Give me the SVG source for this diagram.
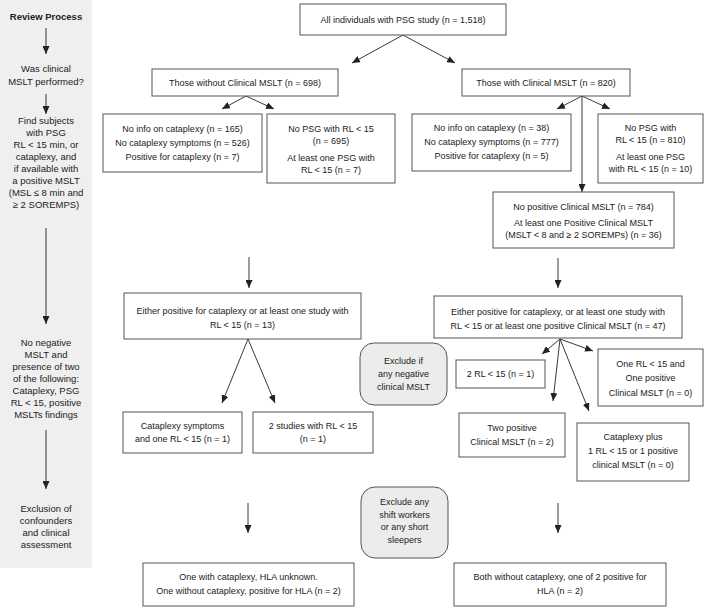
<svg xmlns="http://www.w3.org/2000/svg" width="705" height="608" viewBox="0 0 705 608">
<defs>
<marker id="ah" markerUnits="userSpaceOnUse" markerWidth="8" markerHeight="7" refX="8" refY="3.5" orient="auto">
<path d="M0,0 L8,3.5 L0,7 z" fill="#222"/>
</marker>
<style>
text{font-family:"Liberation Sans",Arial,sans-serif;font-size:9px;fill:#222;text-anchor:middle}
.p{font-size:9.5px}
.b{font-weight:bold}
.box{fill:#fff;stroke:#555;stroke-width:1}
.rbox{fill:#ececec;stroke:#555;stroke-width:1}
.ar{stroke:#222;stroke-width:0.9;fill:none;marker-end:url(#ah)}
</style>
</defs>
<rect width="705" height="608" fill="#fff"/>
<g id="review-panel">
<rect x="0" y="0" width="92" height="568" fill="#efefef"/>
<text class="b p" x="46" y="20">Review Process</text>
<line class="ar" x1="46" y1="28" x2="46" y2="54"/>
<text class="p" x="46" y="72">Was clinical</text>
<text class="p" x="46" y="84.5">MSLT performed?</text>
<line class="ar" x1="46" y1="94" x2="46" y2="114"/>
<text class="p" x="46" y="124">Find subjects</text>
<text class="p" x="46" y="136">with PSG</text>
<text class="p" x="46" y="148">RL &lt; 15 min, or</text>
<text class="p" x="46" y="160">cataplexy, and</text>
<text class="p" x="46" y="172">if available with</text>
<text class="p" x="46" y="184">a positive MSLT</text>
<text class="p" x="46" y="196">(MSL ≤ 8 min and</text>
<text class="p" x="46" y="208">≥ 2 SOREMPS)</text>
<line class="ar" x1="46" y1="228" x2="46" y2="324"/>
<text class="p" x="46" y="346">No negative</text>
<text class="p" x="46" y="358">MSLT and</text>
<text class="p" x="46" y="370">presence of two</text>
<text class="p" x="46" y="382">of the following:</text>
<text class="p" x="46" y="394">Cataplexy, PSG</text>
<text class="p" x="46" y="406">RL &lt; 15, positive</text>
<text class="p" x="46" y="418">MSLTs findings</text>
<line class="ar" x1="46" y1="430" x2="46" y2="489"/>
<text class="p" x="46" y="512">Exclusion of</text>
<text class="p" x="46" y="524">confounders</text>
<text class="p" x="46" y="536">and clinical</text>
<text class="p" x="46" y="548">assessment</text>
</g>
<g id="connectors">
<line class="ar" x1="403" y1="35" x2="352" y2="63"/>
<line class="ar" x1="403" y1="35" x2="455" y2="63"/>
<line class="ar" x1="246" y1="96" x2="222" y2="109"/>
<line class="ar" x1="246" y1="96" x2="274" y2="109"/>
<line class="ar" x1="582" y1="96" x2="557" y2="109"/>
<line class="ar" x1="582" y1="96" x2="610" y2="109"/>
<line class="ar" x1="582" y1="96" x2="582" y2="192"/>
<line class="ar" x1="558" y1="258" x2="558" y2="288"/>
<line class="ar" x1="249" y1="257" x2="249" y2="288"/>
<line class="ar" x1="248" y1="339" x2="222" y2="403"/>
<line class="ar" x1="248" y1="339" x2="275" y2="403"/>
<line class="ar" x1="560" y1="339" x2="542" y2="354"/>
<line class="ar" x1="560" y1="339" x2="593" y2="351"/>
<line class="ar" x1="560" y1="339" x2="553" y2="401"/>
<line class="ar" x1="560" y1="339" x2="589" y2="411"/>
<line class="ar" x1="248" y1="503" x2="248" y2="533"/>
<line class="ar" x1="558" y1="503" x2="558" y2="533"/>
</g>
<g id="all">
<rect class="box" x="300" y="4" width="206" height="31"/>
<text x="403" y="23">All individuals with PSG study (n = 1,518)</text>
</g>
<g id="without-mslt">
<rect class="box" x="152" y="69" width="186" height="27"/>
<text x="245" y="86">Those without Clinical MSLT (n = 698)</text>
</g>
<g id="with-mslt">
<rect class="box" x="462" y="69" width="168" height="27"/>
<text x="546" y="86">Those with Clinical MSLT (n = 820)</text>
</g>
<g id="a1">
<rect class="box" x="103" y="114" width="159" height="58"/>
<text x="182.5" y="132">No info on cataplexy (n = 165)</text>
<text x="182.5" y="146">No cataplexy symptoms (n = 526)</text>
<text x="182.5" y="160">Positive for cataplexy (n = 7)</text>
</g>
<g id="a2">
<rect class="box" x="267" y="114" width="128" height="69"/>
<text x="331" y="132">No PSG with RL &lt; 15</text>
<text x="331" y="144">(n = 695)</text>
<text x="331" y="161">At least one PSG with</text>
<text x="331" y="173">RL &lt; 15 (n = 7)</text>
</g>
<g id="b1">
<rect class="box" x="412" y="114" width="159" height="57"/>
<text x="491.5" y="131">No info on cataplexy (n = 38)</text>
<text x="491.5" y="145">No cataplexy symptoms (n = 777)</text>
<text x="491.5" y="159">Positive for cataplexy (n = 5)</text>
</g>
<g id="b2">
<rect class="box" x="598" y="114" width="105" height="69"/>
<text x="650.5" y="131">No PSG with</text>
<text x="650.5" y="143">RL &lt; 15 (n = 810)</text>
<text x="650.5" y="160">At least one PSG</text>
<text x="650.5" y="172">with RL &lt; 15 (n = 10)</text>
</g>
<g id="c">
<rect class="box" x="493" y="192" width="181" height="56"/>
<text x="583.5" y="210">No positive Clinical MSLT (n = 784)</text>
<text x="583.5" y="226">At least one Positive Clinical MSLT</text>
<text x="583.5" y="238">(MSLT &lt; 8 and ≥ 2 SOREMPs) (n = 36)</text>
</g>
<g id="f">
<rect class="box" x="124" y="293" width="237" height="46"/>
<text x="242.5" y="314">Either positive for cataplexy or at least one study with</text>
<text x="242.5" y="328">RL &lt; 15 (n = 13)</text>
</g>
<g id="d">
<rect class="box" x="434" y="296" width="248" height="42"/>
<text x="558" y="315">Either positive for cataplexy, or at least one study with</text>
<text x="558" y="329">RL &lt; 15 or at least one positive Clinical MSLT (n = 47)</text>
</g>
<g id="exclude-negative">
<rect class="rbox" x="360" y="343" width="87" height="62" rx="14"/>
<text x="403.5" y="364">Exclude if</text>
<text x="403.5" y="377">any negative</text>
<text x="403.5" y="390">clinical MSLT</text>
</g>
<g id="g1">
<rect class="box" x="123" y="412" width="119" height="41"/>
<text x="182.5" y="429">Cataplexy symptoms</text>
<text x="182.5" y="442">and one RL &lt; 15 (n = 1)</text>
</g>
<g id="g2">
<rect class="box" x="253" y="412" width="120" height="41"/>
<text x="313" y="429">2 studies with RL &lt; 15</text>
<text x="313" y="442">(n = 1)</text>
</g>
<g id="e1">
<rect class="box" x="456" y="360" width="89" height="28"/>
<text x="500.5" y="377">2 RL &lt; 15 (n = 1)</text>
</g>
<g id="e2">
<rect class="box" x="598" y="349" width="105" height="57"/>
<text x="650.5" y="367">One RL &lt; 15 and</text>
<text x="650.5" y="381">One positive</text>
<text x="650.5" y="396">Clinical MSLT (n = 0)</text>
</g>
<g id="e3">
<rect class="box" x="459" y="413" width="106" height="44"/>
<text x="512" y="431">Two positive</text>
<text x="512" y="445">Clinical MSLT (n = 2)</text>
</g>
<g id="e4">
<rect class="box" x="577" y="423" width="112" height="58"/>
<text x="633" y="440">Cataplexy plus</text>
<text x="633" y="454">1 RL &lt; 15 or 1 positive</text>
<text x="633" y="468">clinical MSLT (n = 0)</text>
</g>
<g id="exclude-shift">
<rect class="rbox" x="361" y="487" width="87" height="71" rx="14"/>
<text x="404.5" y="505">Exclude any</text>
<text x="404.5" y="517.5">shift workers</text>
<text x="404.5" y="530">or any short</text>
<text x="404.5" y="542.5">sleepers</text>
</g>
<g id="h1">
<rect class="box" x="143" y="563" width="211" height="43"/>
<text x="248.5" y="580">One with cataplexy, HLA unknown.</text>
<text x="248.5" y="594">One without cataplexy, positive for HLA (n = 2)</text>
</g>
<g id="h2">
<rect class="box" x="454" y="563" width="212" height="43"/>
<text x="560" y="580">Both without cataplexy, one of 2 positive for</text>
<text x="560" y="594">HLA (n = 2)</text>
</g>
</svg>
